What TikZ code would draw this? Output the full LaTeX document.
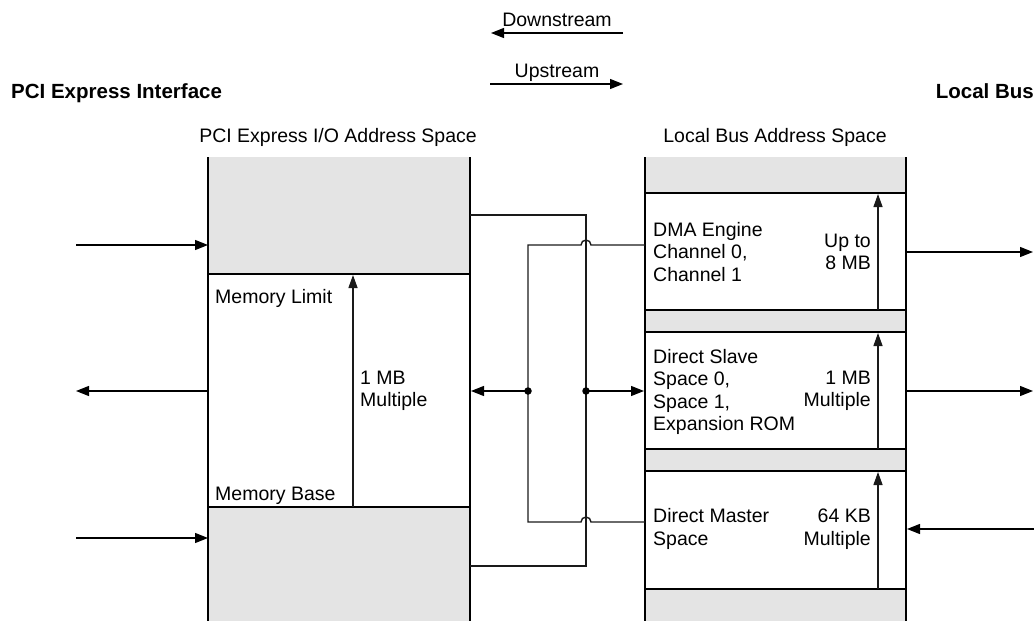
\documentclass[tikz,border=0pt]{standalone}
\usepackage{fontspec}
\setmainfont{Liberation Sans}
\usetikzlibrary{arrows.meta}
\definecolor{blockgray}{HTML}{E4E4E4}
\definecolor{wire}{HTML}{1A1A1A}
\begin{document}
\begin{tikzpicture}[x=1pt,y=-1pt,
  lbl/.style={font=\fontsize{19.5}{22.5}\selectfont, inner sep=0pt},
  head/.style={font=\fontsize{20.5}{24}\selectfont\bfseries, inner sep=0pt},
  border/.style={line width=1.8pt, black},
  wirel/.style={line width=1.4pt, wire},
  arr/.style={line width=1.3pt, -{Triangle[length=13pt,width=10pt]}},
  sizearr/.style={line width=1.3pt, wire, -{Triangle[length=13pt,width=9pt]}},
  dot/.style={circle, fill=black, inner sep=0pt, minimum size=7.5pt},
]
\useasboundingbox (0,0) rectangle (1034,621);

% ---- titles and direction legend ----
\node[head, anchor=base west] (pcie) at (11,98) {PCI Express Interface};
\node[head, anchor=base east] (lbus) at (1034,98) {Local Bus};
\node[lbl, anchor=base] (down) at (557,26) {Downstream};
\node[lbl, anchor=base] (up) at (557,77) {Upstream};
\coordinate (downA) at (623,33); \coordinate (downB) at (491,33);
\coordinate (upA) at (490,84);   \coordinate (upB) at (623,84);
\draw[arr] (downA) -- (downB);
\draw[arr] (upA) -- (upB);

\node[lbl, anchor=base] (pcispace) at (338,142) {PCI Express I/O Address Space};
\node[lbl, anchor=base] (lbspace) at (775,142) {Local Bus Address Space};

% ---- PCI Express address space column ----
\fill[blockgray] (208,157) rectangle (470,274);
\fill[blockgray] (208,507) rectangle (470,621);
\draw[border] (208,157) -- (208,621);
\draw[border] (470,157) -- (470,621);
\draw[border] (208,274) -- (470,274);
\draw[border] (208,507) -- (470,507);

\coordinate (winBase) at (353,507); \coordinate (winLimit) at (353,275);
\draw[sizearr] (winBase) -- (winLimit);
\node[lbl, anchor=base west] (memlim) at (215,303) {Memory Limit};
\node[lbl, anchor=base west] (membase) at (215,500) {Memory Base};
\node[lbl, anchor=west, align=left] (pcisize) at (360,391) {1 MB\\Multiple};

% ---- Local Bus address space column ----
\fill[blockgray] (645,157) rectangle (906,193);
\fill[blockgray] (645,310) rectangle (906,332);
\fill[blockgray] (645,449) rectangle (906,471);
\fill[blockgray] (645,589) rectangle (906,621);
\draw[border] (645,157) -- (645,621);
\draw[border] (906,157) -- (906,621);
\foreach \yy in {193,310,332,449,471,589}
  \draw[border] (645,\yy) -- (906,\yy);

\coordinate (dmaLo) at (878,310); \coordinate (dmaHi) at (878,194);
\coordinate (dsLo) at (878,449);  \coordinate (dsHi) at (878,333);
\coordinate (dmLo) at (878,589);  \coordinate (dmHi) at (878,472);
\draw[sizearr] (dmaLo) -- (dmaHi);
\draw[sizearr] (dsLo) -- (dsHi);
\draw[sizearr] (dmLo) -- (dmHi);

\node[lbl, anchor=west, align=left] (dma) at (653,252) {DMA Engine\\Channel 0,\\Channel 1};
\node[lbl, anchor=east, align=right] (dmasize) at (871,252) {Up to\\8 MB};
\node[lbl, anchor=west, align=left] (ds) at (653,392) {Direct Slave\\Space 0,\\Space 1,\\Expansion ROM};
\node[lbl, anchor=east, align=right] (dssize) at (871,391) {1 MB\\Multiple};
\node[lbl, anchor=west, align=left] (dm) at (653,529) {Direct Master\\Space};
\node[lbl, anchor=east, align=right] (dmsize) at (871,529) {64 KB\\Multiple};

% ---- PCI Express side traffic ----
\coordinate (pciInA) at (76,245);  \coordinate (pciA) at (208,245);
\coordinate (pciOut) at (208,391); \coordinate (pciOutEnd) at (76,391);
\coordinate (pciInB) at (76,538);  \coordinate (pciB) at (208,538);
\draw[arr] (pciInA) -- (pciA);
\draw[arr] (pciOut) -- (pciOutEnd);
\draw[arr] (pciInB) -- (pciB);

% ---- Local Bus side traffic ----
\coordinate (dmaOut) at (906,252);  \coordinate (dmaOutEnd) at (1033,252);
\coordinate (dsOut) at (906,391);   \coordinate (dsOutEnd) at (1033,391);
\coordinate (dmInSrc) at (1034,529); \coordinate (dmInEnd) at (907,529);
\draw[arr] (dmaOut) -- (dmaOutEnd);
\draw[arr] (dsOut) -- (dsOutEnd);
\draw[arr] (dmInSrc) -- (dmInEnd);

% ---- translation paths between the two spaces ----
\coordinate (pciTop) at (470,215); \coordinate (loopTR) at (586,215);
\coordinate (loopBR) at (586,566); \coordinate (pciBot) at (470,566);
\draw[wirel] (pciTop) -- (loopTR) -- (loopBR) -- (pciBot);

\coordinate (dmaIn) at (645,245); \coordinate (spineT) at (528,245);
\coordinate (spineB) at (528,522); \coordinate (dmIn) at (645,522);
\draw[wirel] (dmaIn) -- (591,245) arc[start angle=0, end angle=180, radius=5pt]
  -- (spineT) -- (spineB) -- (581,522) arc[start angle=180, end angle=0, radius=5pt]
  -- (dmIn);

\node[dot] (djL) at (528,391) {};
\node[dot] (djR) at (586,391) {};
\coordinate (pciMid) at (471,391); \coordinate (dsIn) at (644,391);
\draw[arr] (djL.center) -- (pciMid);
\draw[arr] (djR.center) -- (dsIn);
\end{tikzpicture}
\end{document}
